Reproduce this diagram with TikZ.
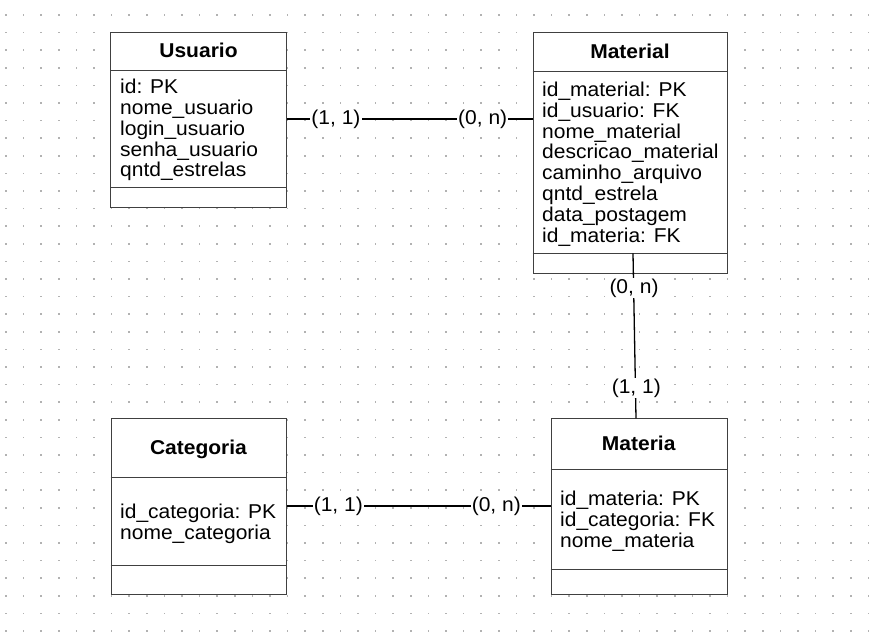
\documentclass[tikz,border=0pt]{standalone}
\usepackage{fontspec}
\setmainfont{Liberation Sans}[FakeStretch=1.05]
\begin{document}
\begin{tikzpicture}[x=1pt,y=-1pt,
  box/.style={draw=black!75, line width=1.1pt, fill=white, inner sep=0pt, anchor=north west},
  divline/.style={draw=black!75, line width=1.1pt},
  conn/.style={draw=black, line width=1.3pt},
  title/.style={anchor=base, inner sep=0pt, font=\fontsize{20}{20.8}\selectfont\bfseries},
  attrs/.style={anchor=north west, inner sep=0pt, align=left, font=\fontsize{20}{20.8}\selectfont},
  lbl/.style={fill=white, inner sep=1pt, font=\fontsize{20}{20.8}\selectfont},
  dotc/.style={fill=black!30}]
\useasboundingbox (0,0) rectangle (883,636);
\fill[white] (0,0) rectangle (883,636);
% dot grid
\foreach \i in {0,...,49}{
  \foreach \j in {0,...,35}{
    \fill[dotc] ({6+17.6*\i-0.8},{15+17.6*\j-0.8}) rectangle ++(1.6,1.6);
  }
}
% boxes
\node[box, minimum width=176pt, minimum height=175.6pt] (usuario) at (110.3,31.7) {};
\node[box, minimum width=194.6pt, minimum height=241.6pt] (material) at (532.7,31.7) {};
\node[box, minimum width=175.3pt, minimum height=175.7pt] (categoria) at (110.7,418.3) {};
\node[box, minimum width=176pt, minimum height=176pt] (materia) at (550.7,418.3) {};
% dividers
\draw[divline] (usuario.west |- 0,70.3) -- (usuario.east |- 0,70.3);
\draw[divline] (usuario.west |- 0,187.7) -- (usuario.east |- 0,187.7);
\draw[divline] (material.west |- 0,71.7) -- (material.east |- 0,71.7);
\draw[divline] (material.west |- 0,253.3) -- (material.east |- 0,253.3);
\draw[divline] (categoria.west |- 0,477.3) -- (categoria.east |- 0,477.3);
\draw[divline] (categoria.west |- 0,565.3) -- (categoria.east |- 0,565.3);
\draw[divline] (materia.west |- 0,469.3) -- (materia.east |- 0,469.3);
\draw[divline] (materia.west |- 0,569.3) -- (materia.east |- 0,569.3);
% titles
\node[title] (tu) at (198.5,57.7) {Usuario};
\node[title] (tm) at (630,59) {Material};
\node[title] (tc) at (198.5,454.3) {Categoria};
\node[title] (tma) at (638.7,450.7) {Materia};
% attributes
\node[attrs] (au) at (120,79) {id: PK\\nome\_usuario\\login\_usuario\\senha\_usuario\\qntd\_estrelas};
\node[attrs] (am) at (542,81.8) {id\_material: PK\\id\_usuario: FK\\nome\_material\\descricao\_material\\caminho\_arquivo\\qntd\_estrela\\data\_postagem\\id\_materia: FK};
\node[attrs] (ac) at (120,503.8) {id\_categoria: PK\\nome\_categoria};
\node[attrs] (ama) at (560,490.8) {id\_materia: PK\\id\_categoria: FK\\nome\_materia};
% connectors
\coordinate (r1) at (0,119);
\coordinate (r3) at (0,506);
\coordinate (v1) at (633,253.3);
\coordinate (v2) at (636,418.3);
\draw[conn] (usuario.east |- r1) -- (material.west |- r1);
\draw[conn] (categoria.east |- r3) -- (materia.west |- r3);
\draw[conn] (v1) -- (v2);
% cardinality labels
\node[lbl] (l1) at (336,119) {(1, 1)};
\node[lbl] (l2) at (482.7,119) {(0, n)};
\node[lbl] (l3) at (338.3,506) {(1, 1)};
\node[lbl] (l4) at (496.3,506) {(0, n)};
\node[lbl] (l5) at (634,288) {(0, n)};
\node[lbl] (l6) at (636.3,388) {(1, 1)};
\end{tikzpicture}
\end{document}
